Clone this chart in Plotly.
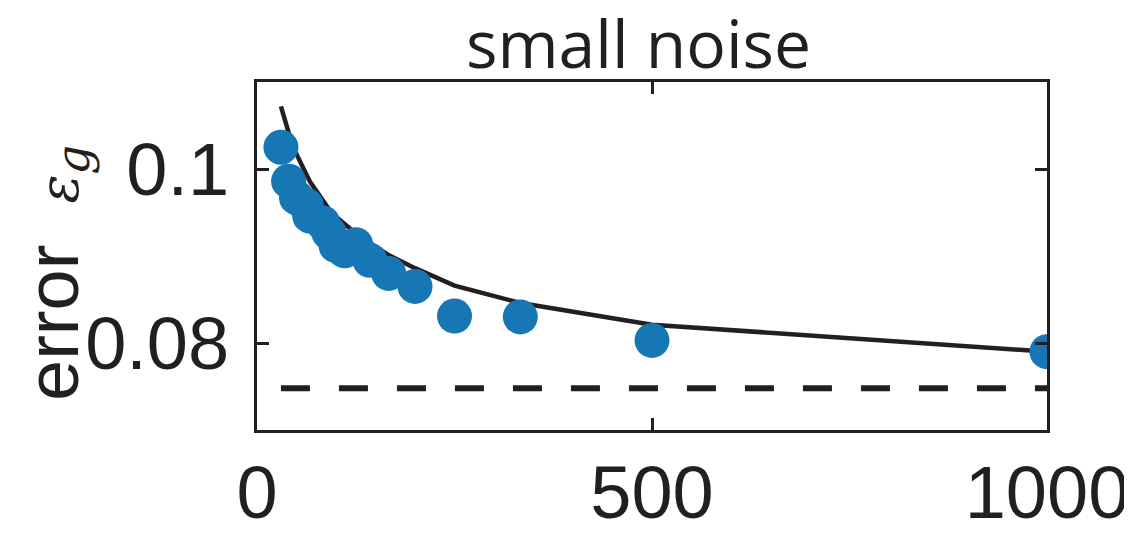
import plotly.graph_objects as go

# data
x_pts = [30.3, 40, 50, 62.5, 66.7, 83.3, 90.9, 100, 111.1, 125, 142.9, 166.7, 200, 250, 333.3, 500, 1000]
err_pts = [0.1025, 0.0986, 0.0967, 0.0958, 0.0946, 0.0938, 0.0927, 0.0912, 0.0906, 0.0913, 0.0895, 0.0880, 0.0865, 0.0831, 0.0830, 0.0803, 0.0790]
x_line = [30.3, 40, 50, 62.5, 66.7, 83.3, 90.9, 100, 111.1, 125, 142.9, 166.7, 200, 250, 333.3, 500, 1000]
err_line = [0.1072, 0.1042, 0.1017, 0.0993, 0.0986, 0.0964, 0.0954, 0.0945, 0.0936, 0.0926, 0.0915, 0.0901, 0.0886, 0.0866, 0.0846, 0.0821, 0.0790]
x_floor = [30.3, 1000]
err_floor = [0.0748, 0.0748]
x_ticks = [0, 500, 1000]
y_ticks = [0.08, 0.1]
y_tick_text = ["0.08", "0.1"]

ink = "#231f20"
blue = "#1777b4"
font_main = "Liberation Sans, Arial, sans-serif"

ylabel = ("error  <span style=\"font-family:'DejaVu Serif', serif; font-size:54px\"><i>ε</i>"
          "<sub><span style=\"font-size:46px\"><i>g</i></span></sub></span>")

fig = go.Figure()
fig.add_trace(go.Scatter(x=x_floor, y=err_floor, mode="lines",
                         line=dict(color=ink, width=6, dash="29px,29px"), showlegend=False))
fig.add_trace(go.Scatter(x=x_line, y=err_line, mode="lines",
                         line=dict(color=ink, width=4.5), showlegend=False))
fig.add_trace(go.Scatter(x=x_pts, y=err_pts, mode="markers",
                         marker=dict(color=blue, size=35, line=dict(width=0)), showlegend=False))

fig.update_layout(
    width=1132, height=534,
    margin=dict(l=249, r=93, t=74, b=112),
    paper_bgcolor="white", plot_bgcolor="white",
    font=dict(family=font_main, color=ink, size=74),
    xaxis=dict(range=[0, 1000], tickvals=x_ticks, ticktext=[str(v) for v in x_ticks],
               showgrid=False, zeroline=False, showline=True, mirror="ticks",
               linecolor=ink, linewidth=3, ticks="inside", ticklen=12, tickwidth=3,
               tickcolor=ink, tickfont=dict(size=74, family=font_main, color=ink),
               ticklabelstandoff=-4, automargin=False),
    yaxis=dict(range=[0.07, 0.11], tickvals=y_ticks, ticktext=y_tick_text,
               showgrid=False, zeroline=False, showline=True, mirror="ticks",
               linecolor=ink, linewidth=3, ticks="inside", ticklen=12, tickwidth=3,
               tickcolor=ink, tickfont=dict(size=74, family=font_main, color=ink),
               ticklabelstandoff=10, automargin=False),
    annotations=[
        dict(text="small noise", xref="paper", yref="paper", x=0.4835, y=1.115,
             xanchor="center", yanchor="middle", showarrow=False,
             font=dict(family="Open Sans, Noto Sans, sans-serif", size=66, color=ink)),
        dict(text=ylabel, xref="paper", yref="paper", x=-0.255, y=0.45,
             xanchor="center", yanchor="middle", textangle=-90, showarrow=False,
             font=dict(size=74, family=font_main, color=ink)),
    ],
)

fig.write_html("out.html")
